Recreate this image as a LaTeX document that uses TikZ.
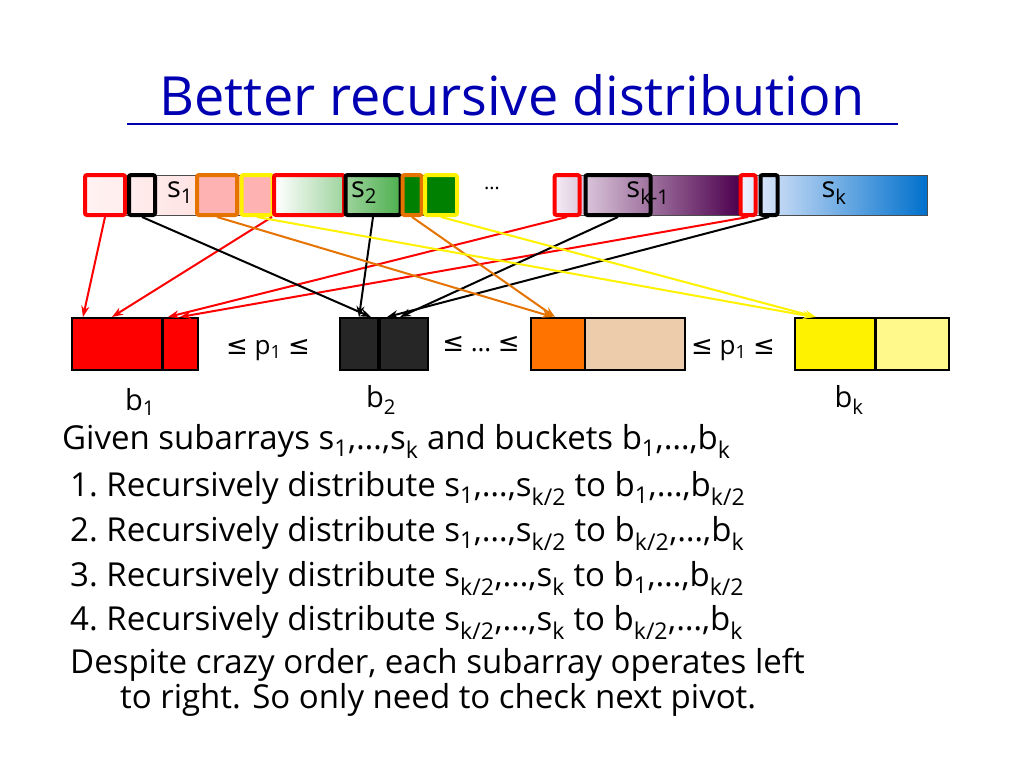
\documentclass[tikz,border=0pt]{standalone}
\usepackage{fontspec}
\setmainfont{Open Sans}
\newfontfamily\symf{DejaVu Sans}
\usetikzlibrary{arrows.meta}
\newcommand{\sbs}[1]{\textsubscript{#1}}
\newcommand{\myle}{{\symf ≤}}
\begin{document}
\begin{tikzpicture}[x=1pt,y=-1pt,
 mk/.style={line width=4pt,rounded corners=2pt},
 seg/.style={draw=black!70,line width=0.8pt},
 bk/.style={line width=2pt,draw=black},
 ar/.style={line width=2pt,-{Stealth[length=11pt,width=8pt]}},
 txt/.style={anchor=west,font=\fontsize{33}{35}\selectfont,inner sep=0pt}]
\useasboundingbox (0,0) rectangle (1024,768);
\node[font=\fontsize{54}{58}\selectfont,text=blue!70!black] (title) at (512,95) {Better recursive distribution};
\draw[blue!70!black,line width=2.5pt] (127,124) -- (898,124);
% top bar
\shade[left color=red!5,right color=red!15] (85,175) rectangle (275,215);
\shade[left color=white,right color=green!55!black] (275,175) rectangle (457,215);
\shade[left color=violet!8,right color=violet!60!black] (555,175) rectangle (740,215);
\shade[left color=blue!5,right color=blue!45!cyan!80!black] (740,175) rectangle (927,215);
\fill[red!30] (196,175) rectangle (272,215);
\fill[green!50!black] (403,175) rectangle (457,215);
\draw[seg] (85,175) rectangle (275,215) (275,175) rectangle (457,215) (555,175) rectangle (740,215) (740,175) rectangle (927,215);
\node[mk,draw=red,minimum width=40pt,minimum height=40pt] (r1) at (105,195) {};
\node[mk,draw=black,minimum width=26pt,minimum height=40pt] (k1) at (142,195) {};
\node[mk,draw=orange!90!black,minimum width=40pt,minimum height=40pt] (o1) at (217,195) {};
\node[mk,draw=yellow,minimum width=31pt,minimum height=40pt] (y1) at (257,195) {};
\node[mk,draw=red,minimum width=70pt,minimum height=40pt] (r2) at (309,195) {};
\node[mk,draw=black,minimum width=55pt,minimum height=40pt] (k2) at (373,195) {};
\node[mk,draw=orange!90!black,minimum width=19pt,minimum height=40pt] (o2) at (412,195) {};
\node[mk,draw=yellow,minimum width=32pt,minimum height=40pt] (y2) at (441,195) {};
\node[mk,draw=red,minimum width=25pt,minimum height=40pt] (r3) at (567,195) {};
\node[mk,draw=black,minimum width=65pt,minimum height=40pt] (k3) at (618,195) {};
\node[mk,draw=red,minimum width=15pt,minimum height=40pt] (r4) at (748,195) {};
\node[mk,draw=black,minimum width=17pt,minimum height=40pt] (k4) at (769,195) {};
\node[font=\fontsize{29}{31}\selectfont] (l1) at (180,193) {s\sbs{1}};
\node[font=\fontsize{29}{31}\selectfont] (l2) at (364,193) {s\sbs{2}};
\node[font=\fontsize{29}{31}\selectfont] (l3) at (648,193) {s\sbs{k-1}};
\node[font=\fontsize{29}{31}\selectfont] (l4) at (834,193) {s\sbs{k}};
\node[font=\fontsize{20}{22}\selectfont] (dots) at (492,188) {…};
% buckets
\node[bk,fill=red,minimum width=90pt,minimum height=52pt] (b1a) at (117,344) {};
\node[bk,fill=red,minimum width=35pt,minimum height=52pt] (b1b) at (180,344) {};
\node[bk,fill=black!85,minimum width=38pt,minimum height=52pt] (b2a) at (359,344) {};
\node[bk,fill=black!85,minimum width=48pt,minimum height=52pt] (b2b) at (404,344) {};
\node[bk,fill=orange!90!red,minimum width=55pt,minimum height=52pt] (b3a) at (558,344) {};
\node[bk,fill=orange!30!brown!40,minimum width=100pt,minimum height=52pt] (b3b) at (635,344) {};
\node[bk,fill=yellow,minimum width=80pt,minimum height=52pt] (b4a) at (835,344) {};
\node[bk,fill=yellow!45!white,minimum width=73pt,minimum height=52pt] (b4b) at (912,344) {};
\node[font=\fontsize{26}{28}\selectfont] (p1) at (268,350) {\myle\ p\sbs{1} \myle};
\node[font=\fontsize{26}{28}\selectfont] (p2) at (481,344) {\myle\ … \myle};
\node[font=\fontsize{26}{28}\selectfont] (p3) at (733,350) {\myle\ p\sbs{1} \myle};
\node[font=\fontsize{29}{31}\selectfont] (n1) at (140,402) {b\sbs{1}};
\node[font=\fontsize{29}{31}\selectfont] (n2) at (381,400) {b\sbs{2}};
\node[font=\fontsize{29}{31}\selectfont] (n3) at (849,400) {b\sbs{k}};
% arrows
\draw[ar,red] (r1.south) -- ([xshift=12pt]b1a.north west);
\draw[ar,red] (r2.south west) -- ([xshift=-5pt]b1a.north);
\draw[ar,red] (r3.south) -- ([xshift=-12pt]b1b.north);
\draw[ar,red] (r4.south) -- (b1b.north);
\draw[ar,black] (k1.south) -- ([xshift=-8pt]b2a.north east);
\draw[ar,black] (k2.south) -- (b2a.north);
\draw[ar,black] (k3.south) -- ([xshift=-4pt]b2b.north);
\draw[ar,black] (k4.south) -- ([xshift=8pt]b2b.north west);
\draw[ar,orange!90!black] (o1.south) -- ([xshift=-5pt]b3a.north);
\draw[ar,orange!90!black] (o2.south) -- ([xshift=-3pt]b3a.north);
\draw[ar,yellow] (y1.south) -- ([xshift=20pt]b4a.north west);
\draw[ar,yellow] (y2.south) -- ([xshift=22pt]b4a.north west);
% text
\node[txt] (t0) at (62,441) {Given subarrays s\sbs{1},…,s\sbs{k} and buckets b\sbs{1},…,b\sbs{k}};
\node[txt] (t1) at (70,488) {1.\ Recursively distribute s\sbs{1},…,s\sbs{k/2} to b\sbs{1},…,b\sbs{k/2}};
\node[txt] (t2) at (70,533) {2.\ Recursively distribute s\sbs{1},…,s\sbs{k/2} to b\sbs{k/2},…,b\sbs{k}};
\node[txt] (t3) at (70,578) {3.\ Recursively distribute s\sbs{k/2},…,s\sbs{k} to b\sbs{1},…,b\sbs{k/2}};
\node[txt] (t4) at (70,622) {4.\ Recursively distribute s\sbs{k/2},…,s\sbs{k} to b\sbs{k/2},…,b\sbs{k}};
\node[txt] (t5) at (70,665) {Despite crazy order, each subarray operates left};
\node[txt] (t6) at (120,700) {to right. So only need to check next pivot.};
\end{tikzpicture}
\end{document}
